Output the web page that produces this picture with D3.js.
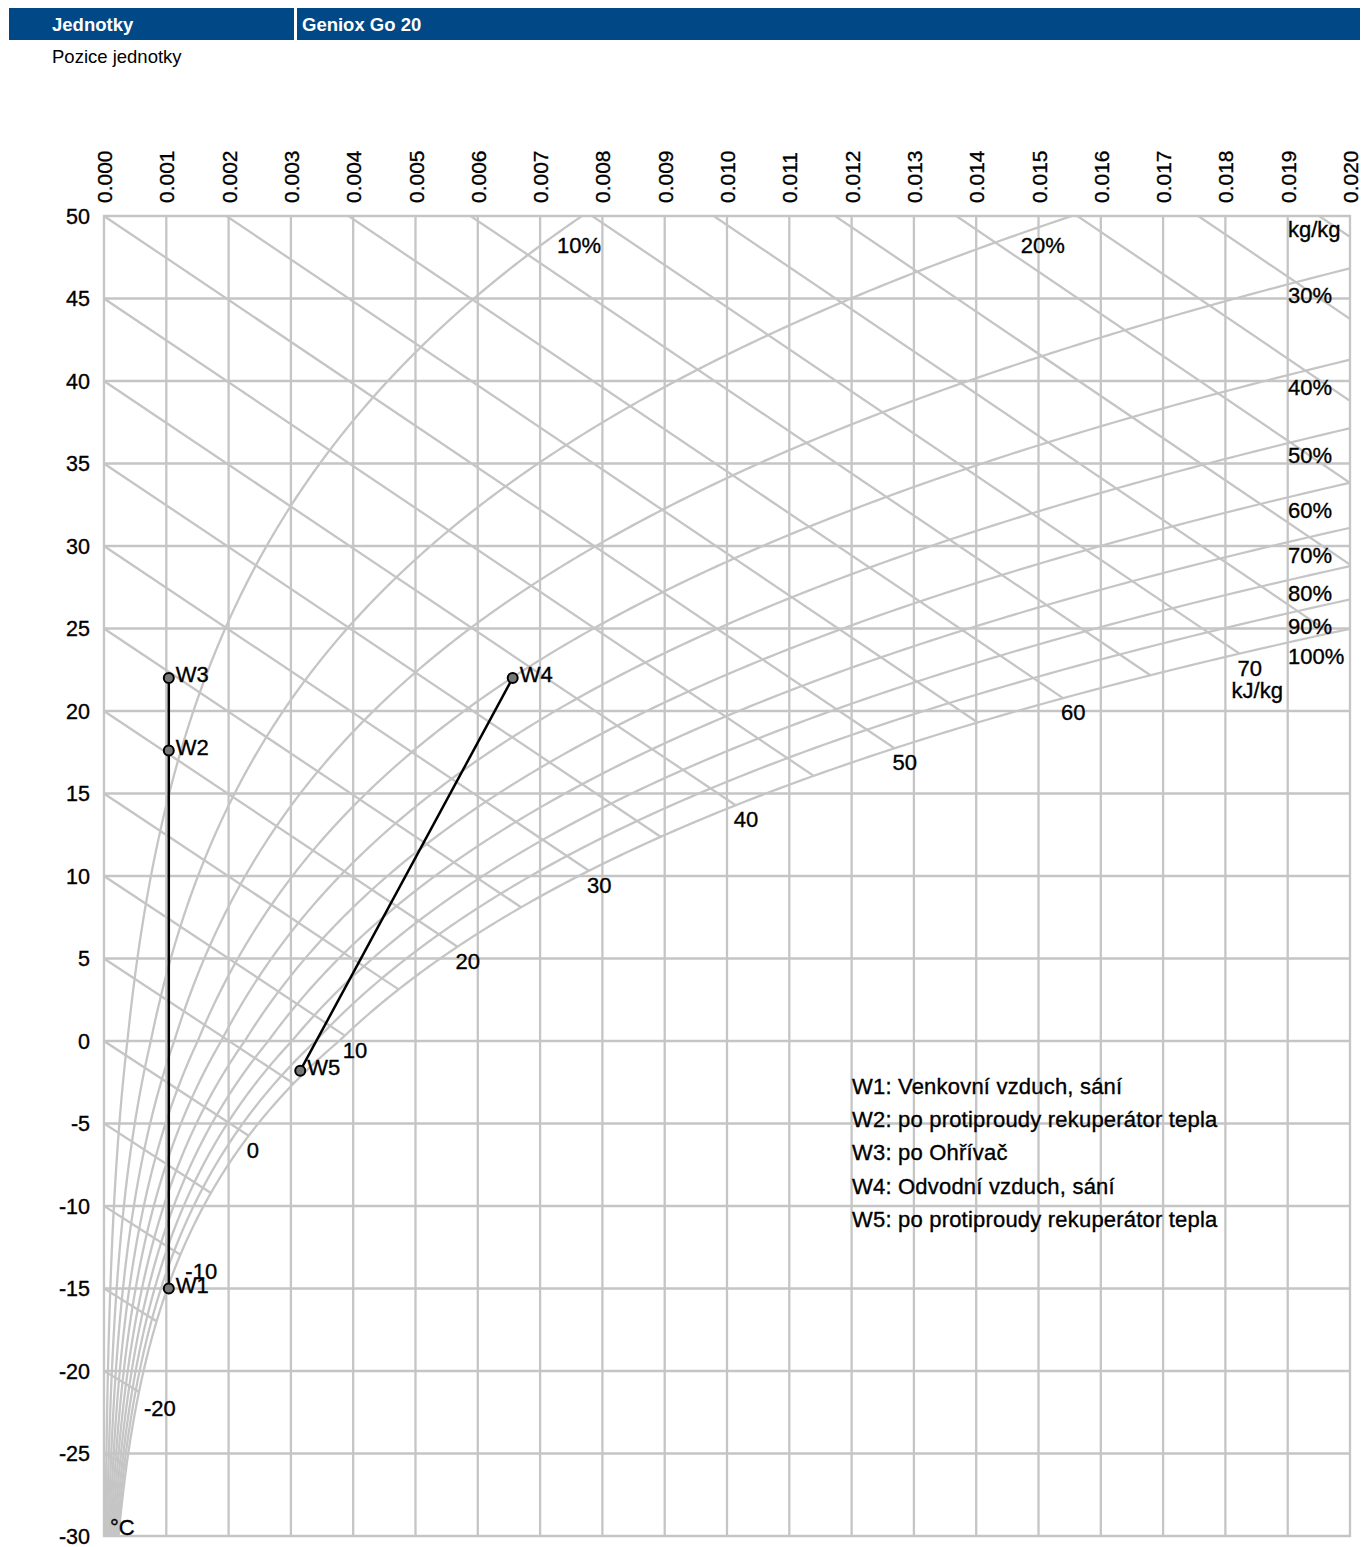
<!DOCTYPE html>
<html>
<head>
<meta charset="utf-8">
<script src="https://cdn.jsdelivr.net/npm/d3@7"></script>
<style>
  body { margin: 0; background: #fff; }
  svg { font-family: "Liberation Sans", Arial, sans-serif; }
  .lbl { fill: #000; stroke: #000; stroke-width: 0.35px; }
</style>
</head>
<body>
<div id="chart"></div>
<script>
// axis ticks
const xTicks = [0, 0.001, 0.002, 0.003, 0.004, 0.005, 0.006, 0.007, 0.008, 0.009, 0.010,
  0.011, 0.012, 0.013, 0.014, 0.015, 0.016, 0.017, 0.018, 0.019, 0.020];
const tTicks = [50, 45, 40, 35, 30, 25, 20, 15, 10, 5, 0, -5, -10, -15, -20, -25, -30];

// relative humidity curves (%)
const rhCurves = [10, 20, 30, 40, 50, 60, 70, 80, 90, 100];
// enthalpy lines (kJ/kg)
const hLines = [-25, -20, -15, -10, -5, 0, 5, 10, 15, 20, 25, 30, 35, 40, 45, 50,
  55, 60, 65, 70, 75, 80, 85, 90, 95, 100];
const hLabels = [-20, -10, 0, 10, 20, 30, 40, 50, 60, 70];

// process points: humidity ratio (kg/kg), temperature (°C)
const pointNames = ["W1", "W2", "W3", "W4", "W5"];
const pointX = [0.00104, 0.00104, 0.00104, 0.00656, 0.00315];
const pointT = [-15.0, 17.6, 22.0, 22.0, -1.8];
const legendLines = [
  "W1: Venkovní vzduch, sání",
  "W2: po protiproudy rekuperátor tepla",
  "W3: po Ohřívač",
  "W4: Odvodní vzduch, sání",
  "W5: po protiproudy rekuperátor tepla"
];

const W = 1370, H = 1547;
const gray = "#c5c5c5";
const P = 101325;

const x = d3.scaleLinear().domain([0, 0.02]).range([104, 1350]);
const y = d3.scaleLinear().domain([-30, 50]).range([1536, 216]);

// saturation pressure (Pa), water above 0, ice below
function psat(t) {
  if (t >= 0) return 611.2 * Math.exp(17.62 * t / (243.12 + t));
  return 611.2 * Math.exp(22.46 * t / (272.62 + t));
}
function humRatio(t, phi) {
  const pv = phi * psat(t);
  return 0.622 * pv / (P - pv);
}
function enthalpy(t, xw) {
  return 1.006 * t + xw * (2501 + 1.86 * t);
}
function satPoint(h) {
  let lo = -60, hi = 70;
  for (let i = 0; i < 60; i++) {
    const mid = (lo + hi) / 2;
    if (enthalpy(mid, humRatio(mid, 1)) > h) hi = mid; else lo = mid;
  }
  const t = (lo + hi) / 2;
  return { t: t, x: humRatio(t, 1) };
}

const svg = d3.select("#chart").append("svg")
  .attr("width", W).attr("height", H);

// header
svg.append("rect").attr("x", 9).attr("y", 8).attr("width", 285).attr("height", 32).attr("fill", "#004886");
svg.append("rect").attr("x", 297).attr("y", 8).attr("width", 1063).attr("height", 32).attr("fill", "#004886");
svg.append("text").attr("x", 52).attr("y", 31).attr("fill", "#fff")
  .attr("font-size", 18.5).attr("font-weight", "bold").text("Jednotky");
svg.append("text").attr("x", 302).attr("y", 31).attr("fill", "#fff")
  .attr("font-size", 18.5).attr("font-weight", "bold").text("Geniox Go 20");
svg.append("text").attr("x", 52).attr("y", 63).attr("fill", "#000")
  .attr("font-size", 18.5).text("Pozice jednotky");

svg.append("defs").append("clipPath").attr("id", "plot")
  .append("rect").attr("x", x(0)).attr("y", y(50))
  .attr("width", x(0.02) - x(0)).attr("height", y(-30) - y(50));

// grid
const grid = svg.append("g").attr("stroke", gray).attr("stroke-width", 2.3);
grid.selectAll("line.v").data(xTicks).enter().append("line")
  .attr("x1", d => x(d)).attr("x2", d => x(d))
  .attr("y1", y(50) - 1).attr("y2", y(-30) + 1);
grid.selectAll("line.h").data(tTicks).enter().append("line")
  .attr("x1", x(0) - 1).attr("x2", x(0.02) + 1)
  .attr("y1", d => y(d)).attr("y2", d => y(d));

const plot = svg.append("g").attr("clip-path", "url(#plot)");

// relative humidity curves
const temps = d3.range(-30, 50.01, 0.25);
const rhLine = d3.line().x(d => x(d[0])).y(d => y(d[1]));
plot.selectAll("path.rh").data(rhCurves).enter().append("path")
  .attr("fill", "none").attr("stroke", gray).attr("stroke-width", 2.3)
  .attr("d", phi => rhLine(temps.map(t => [humRatio(t, phi / 100), t])
    .filter(p => p[0] <= 0.0215)));

// enthalpy lines
plot.selectAll("line.h").data(hLines).enter().append("line")
  .attr("stroke", gray).attr("stroke-width", 2.3)
  .attr("x1", x(0)).attr("y1", h => y(h))
  .attr("x2", h => x(satPoint(h).x)).attr("y2", h => y(satPoint(h).t));

// enthalpy labels
svg.selectAll("text.hl").data(hLabels).enter().append("text")
  .attr("class", "lbl")
  .attr("x", h => x(satPoint(h).x) - 2 + (h < 0 ? 7 : 0))
  .attr("y", h => y(satPoint(h).t) + 22 + (h < 0 ? 2 : 0))
  .attr("font-size", 22)
  .text(h => h);
const s70 = satPoint(70);
svg.append("text").attr("class", "lbl").attr("x", x(s70.x) - 8).attr("y", y(s70.t) + 44)
  .attr("font-size", 22).text("kJ/kg");

// RH labels
rhCurves.forEach(function (phi) {
  // temperature where curve meets x = 0.020
  let lo = -30, hi = 60;
  for (let i = 0; i < 60; i++) {
    const mid = (lo + hi) / 2;
    if (humRatio(mid, phi / 100) > 0.02) hi = mid; else lo = mid;
  }
  const tEnd = (lo + hi) / 2;
  if (tEnd <= 50) {
    svg.append("text").attr("class", "lbl").attr("x", 1288).attr("y", y(tEnd) + 35)
      .attr("font-size", 22)
      .text(phi + "%");
  } else {
    const xTop = x(humRatio(50, phi / 100));
    svg.append("text").attr("class", "lbl")
      .attr("x", xTop + (phi === 10 ? -3 : -29)).attr("y", y(50) + 37)
      .attr("text-anchor", "middle")
      .attr("font-size", 22)
      .text(phi + "%");
  }
});
svg.append("text").attr("class", "lbl").attr("x", 1288).attr("y", 237)
  .attr("font-size", 22).text("kg/kg");
svg.append("text").attr("class", "lbl").attr("x", 110).attr("y", 1535)
  .attr("font-size", 22).text("°C");

// axes tick labels
svg.selectAll("text.yt").data(tTicks).enter().append("text")
  .attr("class", "lbl")
  .attr("x", 90).attr("y", d => y(d) + 7.5)
  .attr("text-anchor", "end").attr("font-size", 21.5)
  .text(d => d);
svg.selectAll("text.xt").data(xTicks).enter().append("text")
  .attr("class", "lbl")
  .attr("transform", d => `translate(${x(d) + 8},203) rotate(-90)`)
  .attr("font-size", 21)
  .text(d => d.toFixed(3));

// process lines
const proc = d3.line().x(i => x(pointX[i])).y(i => y(pointT[i]));
svg.append("path").attr("d", proc([0, 1, 2]))
  .attr("fill", "none").attr("stroke", "#000").attr("stroke-width", 2.5);
svg.append("path").attr("d", proc([3, 4]))
  .attr("fill", "none").attr("stroke", "#000").attr("stroke-width", 2.5);

svg.selectAll("circle.pt").data(pointNames).enter().append("circle")
  .attr("cx", (d, i) => x(pointX[i])).attr("cy", (d, i) => y(pointT[i]))
  .attr("r", 5).attr("fill", "#777").attr("stroke", "#000").attr("stroke-width", 2);
svg.selectAll("text.pt").data(pointNames).enter().append("text")
  .attr("class", "lbl")
  .attr("x", (d, i) => x(pointX[i]) + 7).attr("y", (d, i) => y(pointT[i]) + 4)
  .attr("font-size", 22)
  .text(d => d);

// legend
svg.selectAll("text.lg").data(legendLines).enter().append("text")
  .attr("class", "lbl")
  .attr("x", 852).attr("y", (d, i) => 1094 + i * 33.2)
  .attr("font-size", 22).attr("letter-spacing", 0.2)
  .text(d => d);
</script>
</body>
</html>
